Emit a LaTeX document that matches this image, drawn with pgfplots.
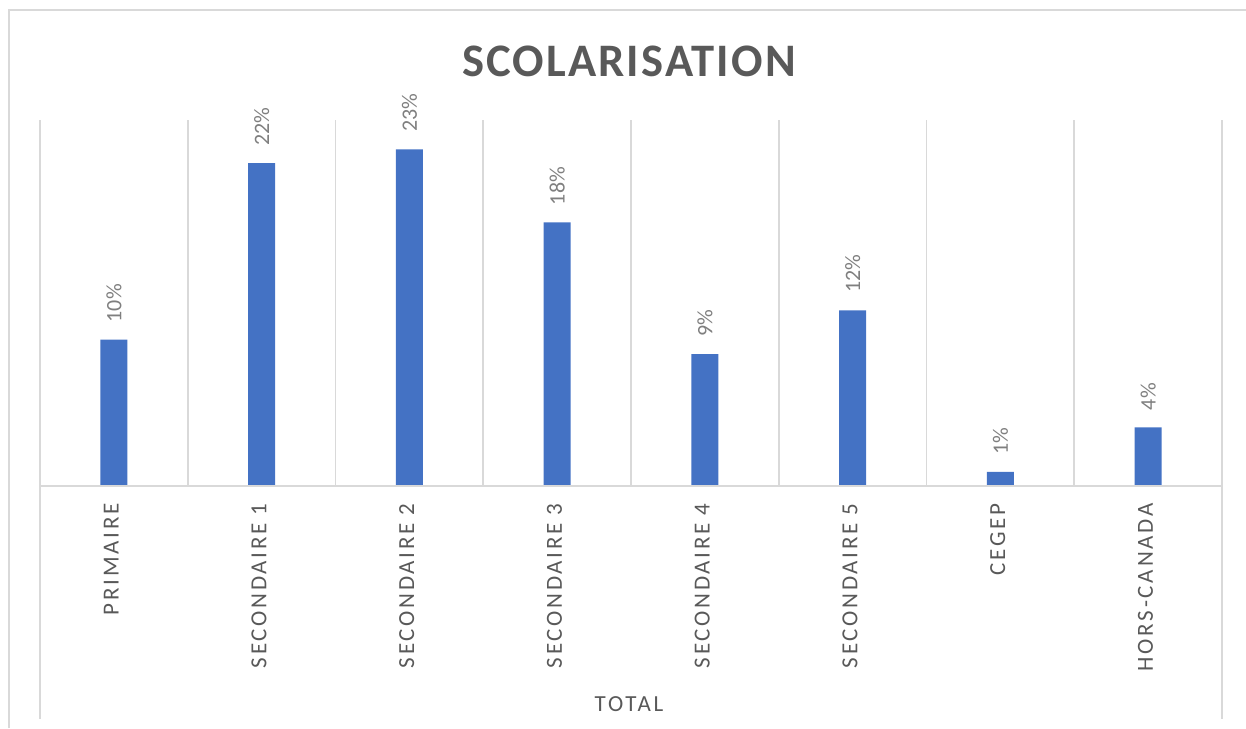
\documentclass[border=0pt]{standalone}
\usepackage{fontspec}
\setmainfont{Carlito}
\newfontfamily\spaced[LetterSpace=12]{Carlito}
\newfontfamily\titlefont[LetterSpace=4.5]{Carlito}
\usepackage{pgfplots}
\pgfplotsset{compat=1.18}
\definecolor{barblue}{HTML}{4472C4}
\definecolor{gridgray}{HTML}{D9D9D9}
\definecolor{txtgray}{HTML}{595959}
\definecolor{lblgray}{HTML}{7F7F7F}
\begin{document}
\begin{tikzpicture}
\useasboundingbox (-20pt,-121pt) rectangle (603pt,243pt);
\draw[gridgray, line width=0.8pt] (-15.5pt,-121pt) -- (-15.5pt,238pt) -- (603pt,238pt);
\begin{axis}[
  at={(0pt,0pt)}, anchor=south west,
  scale only axis, width=591pt, height=183pt,
  xmin=-0.5, xmax=7.5, ymin=0, ymax=25,
  axis line style={draw=none},
  ytick=\empty,
  xtick={0,...,7},
  xticklabels={PRIMAIRE,SECONDAIRE 1,SECONDAIRE 2,SECONDAIRE 3,SECONDAIRE 4,SECONDAIRE 5,CEGEP,HORS-CANADA},
  major tick length=0pt, minor tick length=0pt,
  minor xtick={-0.5,0.5,...,7.5},
  xminorgrids,
  minor grid style={gridgray, line width=0.8pt},
  xticklabel style={rotate=90, anchor=mid east, inner sep=0pt, text=txtgray, font=\spaced\fontsize{11.5}{14}\selectfont},
  xticklabel shift=8.5pt,
  clip=false,
  point meta=y,
  /pgf/number format/assume math mode=true,
  nodes near coords={\pgfmathprintnumber[fixed,precision=0,assume math mode=true]{\pgfplotspointmeta}\%},
  every node near coord/.style={rotate=90, anchor=west, inner xsep=8.5pt, inner ysep=0pt, text=lblgray, font=\fontsize{11}{13}\selectfont},
]
\addplot[ybar, bar width=13.5pt, fill=barblue, draw=none] coordinates {
  (0,10) (1,22.05) (2,23) (3,18) (4,9) (5,12) (6,0.96) (7,4)
};
\draw[gridgray, line width=0.8pt] (axis cs:-0.5,0) -- (axis cs:7.5,0);
\draw[gridgray, line width=0.8pt] (axis cs:-0.5,0) -- ++(0pt,-116.5pt);
\draw[gridgray, line width=0.8pt] (axis cs:7.5,0) -- ++(0pt,-116.5pt);
\end{axis}
\node[text=txtgray, font=\titlefont\bfseries\fontsize{23.3}{28}\selectfont] at (294.5pt,212.5pt) {SCOLARISATION};
\node[text=txtgray, font=\spaced\fontsize{11.5}{14}\selectfont] at (294.5pt,-109pt) {TOTAL};
\end{tikzpicture}
\end{document}
